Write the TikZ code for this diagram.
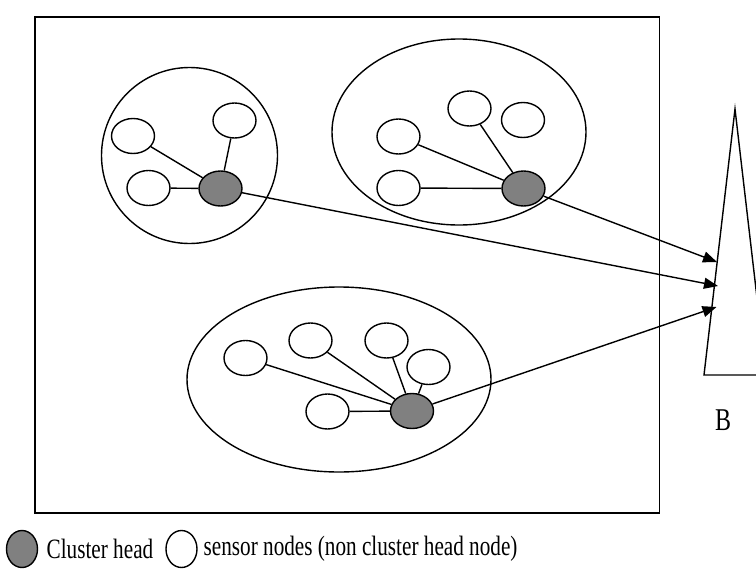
\documentclass[tikz,border=0pt]{standalone}
\usepackage{fontspec}
\setmainfont{Liberation Serif}
\usetikzlibrary{shapes.geometric,arrows.meta}
\definecolor{headgray}{RGB}{128,128,128}
\newcommand{\tallt}[1]{\scalebox{1}[1.32]{#1}}
\tikzset{
  sn/.style={draw, ellipse, line width=1.4pt, minimum width=43pt, minimum height=35pt, inner sep=0pt, fill=white},
  ch/.style={sn, fill=headgray},
  link/.style={line width=1.4pt},
  tx/.style={-{Triangle[length=14pt,width=11pt]}, line width=1.4pt},
  area/.style={draw, line width=1.4pt},
  lbl/.style={font=\fontsize{21.2}{26}\selectfont, inner sep=0pt}
}
\begin{document}
\begin{tikzpicture}[x=1pt,y=-1pt]
\useasboundingbox (0,0) rectangle (756,579);
\clip (0,0) rectangle (756,579);
% field
\draw[line width=1.9pt] (35,17) rectangle (659.5,513);
% cluster areas
\draw[area] (189.5,155.5) circle [radius=88];
\draw[area] (459,132) ellipse [x radius=127, y radius=93];
\draw[area] (339,379.5) ellipse [x radius=152, y radius=92.5];
% base station
\draw[line width=1.4pt] (704,375) -- (735,109) -- (766,375) -- cycle;
\coordinate (t1) at (717,262);
\coordinate (t2) at (718,286);
\coordinate (t3) at (716.5,307);
\node[lbl, font=\fontsize{24}{28}\selectfont] (bl) at (723,420) {\tallt{B}};
% cluster 1
\node[sn] (a1) at (133,136) {};
\node[sn] (a2) at (234.5,120.5) {};
\node[sn] (a3) at (148.5,188) {};
\node[ch] (h1) at (220.5,188.5) {};
\draw[link] (a1) -- (h1);
\draw[link] (a2) -- (h1);
\draw[link] (a3) -- (h1);
% cluster 2
\node[sn] (b1) at (469.5,108.5) {};
\node[sn] (b2) at (523,120) {};
\node[sn] (b3) at (398.5,136.5) {};
\node[sn] (b4) at (398.5,188) {};
\node[ch] (h2) at (523.5,188.5) {};
\draw[link] (b1) -- (h2);
\draw[link] (b3) -- (h2);
\draw[link] (b4) -- (h2);
% cluster 3
\node[sn] (c1) at (245.5,358) {};
\node[sn] (c2) at (310.5,340.5) {};
\node[sn] (c3) at (386.5,340.5) {};
\node[sn] (c4) at (428.5,367) {};
\node[sn] (c5) at (327.5,411.5) {};
\node[ch] (h3) at (412,411) {};
\draw[link] (c1) -- (h3);
\draw[link] (c2) -- (h3);
\draw[link] (c3) -- (h3);
\draw[link] (c4) -- (h3);
\draw[link] (c5) -- (h3);
% transmissions
\draw[tx] (h2) -- (t1);
\draw[tx] (h1) -- (t2);
\draw[tx] (h3) -- (t3);
% legend
\node[ch, minimum width=31pt, minimum height=37pt] (lg1) at (22,549) {};
\node[lbl, anchor=west] (lt1) at (46.5,549) {\tallt{Cluster head}};
\node[sn, minimum width=31pt, minimum height=37pt] (lg2) at (181.5,549) {};
\node[lbl, anchor=west] (lt2) at (203.5,549) {\tallt{sensor nodes (non cluster head node)}};
\end{tikzpicture}
\end{document}
